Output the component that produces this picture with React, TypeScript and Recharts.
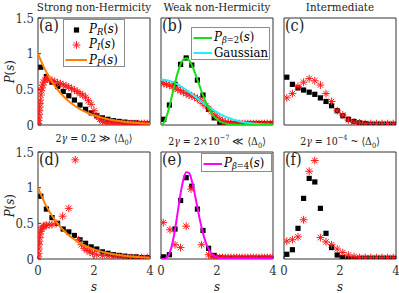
import React from 'react';
import { ComposedChart, Scatter, Line, XAxis, YAxis, Legend } from 'recharts';

// bin centres used by the histogram markers
const S_BINS = [0.1, 0.3, 0.5, 0.7, 0.9, 1.1, 1.3, 1.5, 1.7, 1.9, 2.1, 2.3, 2.5, 2.7, 2.9, 3.1, 3.3, 3.5, 3.7, 3.9];
// fine grid for the theory curves and the dense star runs
const S_FINE = [0, 0.1, 0.2, 0.3, 0.4, 0.5, 0.6, 0.7, 0.8, 0.9, 1, 1.1, 1.2, 1.3, 1.4, 1.5, 1.6, 1.7, 1.8, 1.9, 2, 2.1, 2.2, 2.3, 2.4, 2.5, 2.6, 2.7, 2.8, 2.9, 3, 3.1, 3.2, 3.3, 3.4, 3.5, 3.6, 3.7, 3.8, 3.9, 4];

const X_TICKS = [0, 2, 4];
const Y_TICKS = [0, 0.5, 1, 1.5];

// theory curves
const POISSON = [1, 0.905, 0.819, 0.741, 0.67, 0.607, 0.549, 0.497, 0.449, 0.407, 0.368, 0.333, 0.301, 0.273, 0.247, 0.223, 0.202, 0.183, 0.165, 0.15, 0.135, 0.122, 0.111, 0.1, 0.091, 0.082, 0.074, 0.067, 0.061, 0.055, 0.05, 0.045, 0.041, 0.037, 0.033, 0.03, 0.027, 0.025, 0.022, 0.02, 0.018];
const GUE = [0, 0.032, 0.123, 0.26, 0.423, 0.59, 0.738, 0.851, 0.919, 0.937, 0.908, 0.84, 0.746, 0.637, 0.524, 0.415, 0.319, 0.236, 0.17, 0.118, 0.08, 0.052, 0.033, 0.02, 0.012, 0.007, 0.004, 0.002, 0.001, 0, 0, 0, 0, 0, 0, 0, 0, 0, 0, 0, 0];
const GAUSS = [0.637, 0.635, 0.629, 0.619, 0.605, 0.588, 0.568, 0.545, 0.519, 0.492, 0.463, 0.433, 0.403, 0.372, 0.341, 0.311, 0.282, 0.254, 0.227, 0.202, 0.178, 0.156, 0.136, 0.118, 0.102, 0.087, 0.074, 0.063, 0.052, 0.044, 0.036, 0.03, 0.024, 0.02, 0.016, 0.013, 0.01, 0.008, 0.006, 0.005, 0.004];
const GSE = [0, 0.001, 0.017, 0.077, 0.207, 0.412, 0.665, 0.919, 1.116, 1.217, 1.206, 1.097, 0.924, 0.722, 0.527, 0.361, 0.231, 0.14, 0.08, 0.043, 0.022, 0.01, 0.005, 0.002, 0.001, 0, 0, 0, 0, 0, 0, 0, 0, 0, 0, 0, 0, 0, 0, 0, 0];

// (a) strong non-Hermiticity, 2γ = 0.2
const A_PR = [0.81, 0.68, 0.6, 0.54, 0.47, 0.41, 0.35, 0.28, 0.22, 0.17, 0.13, 0.1, 0.08, 0.06, 0.05, 0.04, 0.03, 0.03, 0.02, 0.02];
const A_PI_S = [0.01, 0.02, 0.03, 0.04, 0.05, 0.06, 0.07, 0.08, 0.1, 0.12, 0.14, 0.17, 0.2, 0.25, 0.3, 0.35, 0.4, 0.5, 0.6, 0.7, 0.8, 0.9, 1, 1.1, 1.2, 1.3, 1.4, 1.5, 1.6, 1.7, 1.8, 1.9, 2, 2.1, 2.2, 2.3, 2.4, 2.5, 2.6, 2.7, 2.8, 2.9, 3, 3.1, 3.2, 3.3, 3.4, 3.5, 3.6, 3.7, 3.8, 3.9, 4];
const A_PI = [0.02, 0.06, 0.1, 0.15, 0.2, 0.25, 0.3, 0.35, 0.42, 0.48, 0.52, 0.56, 0.6, 0.63, 0.65, 0.65, 0.64, 0.62, 0.61, 0.59, 0.58, 0.56, 0.55, 0.53, 0.51, 0.49, 0.47, 0.44, 0.42, 0.39, 0.34, 0.29, 0.2, 0.13, 0.08, 0.05, 0.04, 0.03, 0.03, 0.03, 0.02, 0.02, 0.02, 0.02, 0.02, 0.02, 0.02, 0.02, 0.02, 0.02, 0.02, 0.02, 0.02];

// (b) weak non-Hermiticity, 2γ = 2e-7
const B_PR = [0.08, 0.28, 0.57, 0.85, 0.94, 0.84, 0.63, 0.42, 0.22, 0.1, 0.04, 0.02, 0.02, 0.02, 0.02, 0.02, 0.02, 0.02, 0.02, 0.02];
const B_PI = [0.59, 0.58, 0.57, 0.56, 0.54, 0.52, 0.5, 0.48, 0.46, 0.44, 0.42, 0.41, 0.39, 0.37, 0.34, 0.3, 0.27, 0.23, 0.19, 0.15, 0.11, 0.08, 0.06, 0.04, 0.03, 0.03, 0.02, 0.02, 0.02, 0.02, 0.02, 0.02, 0.02, 0.02, 0.02, 0.02, 0.02, 0.02, 0.02, 0.02, 0.02];

// (c) intermediate, 2γ = 1e-4
const C_PR = [0.67, 0.57, 0.52, 0.49, 0.46, 0.43, 0.38, 0.33, 0.27, 0.2, 0.13, 0.08, 0.05, 0.03, 0.02, 0.01, 0.01, 0.01, 0.01, 0.01];
const C_PI = [0.38, 0.44, 0.54, 0.6, 0.65, 0.62, 0.56, 0.44, 0.33, 0.2, 0.14, 0.07, 0.04, 0.03, 0.02, 0.02, 0.02, 0.02, 0.02, 0.02];

// (d)
const D_PR = [0.88, 0.7, 0.58, 0.5, 0.42, 0.38, 0.33, 0.27, 0.22, 0.17, 0.14, 0.1, 0.08, 0.06, 0.05, 0.04, 0.03, 0.03, 0.02, 0.02];
const D_PI_S = [0.01, 0.02, 0.03, 0.04, 0.05, 0.06, 0.08, 0.1, 0.12, 0.15, 0.2, 0.25, 0.3, 0.4, 0.5, 0.65, 0.88, 1.1, 1.33, 1.45, 1.55, 1.65, 1.75, 1.85, 1.95, 2.1, 2.3, 2.5, 2.7, 2.9, 3.1, 3.3, 3.5, 3.7, 3.9];
const D_PI = [0.03, 0.08, 0.14, 0.2, 0.25, 0.3, 0.35, 0.39, 0.42, 0.44, 0.46, 0.47, 0.47, 0.48, 0.48, 0.5, 0.6, 0.71, 1.39, 0.27, 0.2, 0.15, 0.12, 0.1, 0.08, 0.06, 0.05, 0.04, 0.03, 0.03, 0.02, 0.02, 0.02, 0.02, 0.02];

// (e)
const E_PR = [0.03, 0.06, 0.42, 0.82, 1.14, 1.02, 0.7, 0.4, 0.15, 0.05, 0.02, 0.01, 0.01, 0.01, 0.01, 0.01, 0.01, 0.01, 0.01, 0.01];
const E_PI_S = [0.08, 0.32, 0.5, 0.7, 0.9, 1.07, 1.45, 1.7, 1.8, 1.9, 2, 2.1, 2.2, 2.3, 2.4, 2.5, 2.6, 2.7, 2.8, 2.9, 3, 3.1, 3.2, 3.3, 3.4, 3.5, 3.6, 3.7, 3.8, 3.9, 4];
const E_PI = [0.51, 0.41, 0.2, 0.16, 0.46, 0.98, 0.2, 0.06, 0.03, 0.02, 0.02, 0.02, 0.02, 0.02, 0.02, 0.02, 0.02, 0.02, 0.02, 0.02, 0.02, 0.02, 0.02, 0.02, 0.02, 0.02, 0.02, 0.02, 0.02, 0.02, 0.02];

// (f)
const F_PR = [0.066, 0.13, 0.43, 0.85, 1.13, 1.08, 0.71, 0.36, 0.16, 0.056, 0.02, 0.01, 0.01, 0.01, 0.01, 0.01, 0.01, 0.01, 0.01, 0.01];
const F_PI = [0.25, 0.27, 0.31, 0.55, 1.23, 1.38, 0.3, 0.24, 0.2, 0.14, 0.09, 0.056, 0.033, 0.02, 0.02, 0.02, 0.02, 0.02, 0.02, 0.02];

const TITLES = ['Strong non-Hermicity', 'Weak non-Hermicity', 'Intermediate'];
const TAGS = ['(a)', '(b)', '(c)', '(d)', '(e)', '(f)'];

type Pt = { s: number; p: number };
const zip = (s: number[], p: number[]): Pt[] =>
  s.map((v, i) => ({ s: v, p: p[i] })).filter((d) => d.p !== undefined);

const SERIF = "'DejaVu Serif Condensed', 'DejaVu Serif', serif";
const AXIS = '#333';
const RED = '#ff1a1a';
const ORANGE = '#ff8000';
const GREEN = '#14e014';
const CYAN = '#22eeff';
const MAGENTA = '#ff00ff';

// plot box geometry
const COL_X = [38, 161, 284];
const ROW_Y = [18, 152];
const PW = 112;
const PH = 107;
const PAD = { l: 40, r: 6, t: 6, b: 26 };

const Square = ({ cx, cy }: any) => <rect x={cx - 2.6} y={cy - 2.6} width={5.2} height={5.2} fill="#000" />;

const Star = ({ cx, cy }: any) => {
  const r = 3.9;
  const d = r * 0.7071;
  return (
    <g stroke={RED} strokeWidth={1}>
      <line x1={cx - r} y1={cy} x2={cx + r} y2={cy} />
      <line x1={cx} y1={cy - r} x2={cx} y2={cy + r} />
      <line x1={cx - d} y1={cy - d} x2={cx + d} y2={cy + d} />
      <line x1={cx - d} y1={cy + d} x2={cx + d} y2={cy - d} />
    </g>
  );
};

type LegendItem = { kind: 'square' | 'star' | 'line'; color?: string; label: React.ReactNode };
type LegendSpec = { x: number; y: number; w: number; h: number; rowTop: number; rowGap: number; keyW: number; items: LegendItem[] };

function LegendBox({ spec }: { spec: LegendSpec }) {
  return (
    <div style={{ position: 'relative', width: spec.w, height: spec.h, boxSizing: 'border-box', border: '1px solid #8c8c8c', background: '#fff', fontFamily: SERIF, fontSize: 13, color: '#000' }}>
      {spec.items.map((it, i) => (
        <div key={i} style={{ position: 'absolute', left: 0, top: spec.rowTop + i * spec.rowGap - 8, height: 16, display: 'flex', alignItems: 'center', whiteSpace: 'nowrap', lineHeight: 1 }}>
          <svg width={spec.keyW} height={16} style={{ display: 'block' }}>
            {it.kind === 'line' && <line x1={1.5} x2={spec.keyW - 2} y1={8} y2={8} stroke={it.color} strokeWidth={2} />}
            {it.kind === 'square' && <Square cx={spec.keyW / 2} cy={8} />}
            {it.kind === 'star' && <Star cx={spec.keyW / 2} cy={8} />}
          </svg>
          <span>{it.label}</span>
        </div>
      ))}
    </div>
  );
}

const sub = (t: React.ReactNode) => <sub style={{ fontSize: '0.72em', verticalAlign: '-0.25em' }}>{t}</sub>;

const LEGEND_A: LegendSpec = {
  x: 63, y: 19, w: 62, h: 48, rowTop: 9.5, rowGap: 15.3, keyW: 25,
  items: [
    { kind: 'square', label: <><i>P</i>{sub(<i>R</i>)}(<i>s</i>)</> },
    { kind: 'star', label: <><i>P</i>{sub(<i>I</i>)}(<i>s</i>)</> },
    { kind: 'line', color: ORANGE, label: <><i>P</i>{sub(<i>P</i>)}(<i>s</i>)</> },
  ],
};
const LEGEND_B: LegendSpec = {
  x: 191, y: 27, w: 79, h: 33, rowTop: 9.5, rowGap: 15, keyW: 22,
  items: [
    { kind: 'line', color: GREEN, label: <><i>P</i>{sub(<><i>β</i>=2</>)}(<i>s</i>)</> },
    { kind: 'line', color: CYAN, label: 'Gaussian' },
  ],
};
const LEGEND_E: LegendSpec = {
  x: 201, y: 153, w: 71, h: 19, rowTop: 9.5, rowGap: 15, keyW: 22,
  items: [{ kind: 'line', color: MAGENTA, label: <><i>P</i>{sub(<><i>β</i>=4</>)}(<i>s</i>)</> }],
};

type Curve = { data: Pt[]; color: string };
type PanelProps = { col: number; row: number; squares: Pt[]; stars: Pt[]; curves: Curve[]; legend?: LegendSpec };

function Panel({ col, row, squares, stars, curves, legend }: PanelProps) {
  const x0 = COL_X[col] - PAD.l;
  const y0 = ROW_Y[row] - PAD.t;
  const showY = col === 0;
  const showX = row === 1;
  const tickStyle = { fill: AXIS, fontSize: 13, fontFamily: SERIF };
  return (
    <div style={{ position: 'absolute', left: x0, top: y0 }}>
      <ComposedChart
        width={PW + PAD.l + PAD.r}
        height={PH + PAD.t + PAD.b}
        margin={{ top: PAD.t - 1, right: PAD.r - 1, bottom: PAD.b - 1, left: PAD.l - 1 }}
      >
        <XAxis type="number" dataKey="s" domain={[0, 4]} ticks={X_TICKS} interval={0} height={1} allowDataOverflow
          stroke={AXIS} tickSize={-3} tickMargin={10} tick={showX ? tickStyle : false} />
        <XAxis xAxisId="top" orientation="top" type="number" dataKey="s" domain={[0, 4]} ticks={X_TICKS} interval={0} height={1}
          allowDataOverflow stroke={AXIS} tickSize={-3} tick={false} />
        <YAxis type="number" domain={[0, 1.5]} ticks={Y_TICKS} interval={0} width={1} allowDataOverflow
          stroke={AXIS} tickSize={-3} tickMargin={7} tick={showY ? tickStyle : false} />
        <YAxis yAxisId="right" orientation="right" type="number" domain={[0, 1.5]} ticks={Y_TICKS} interval={0} width={1}
          allowDataOverflow stroke={AXIS} tickSize={-3} tick={false} />
        <Scatter data={squares} dataKey="p" shape={Square} isAnimationActive={false} zIndex={600} />
        <Scatter data={stars} dataKey="p" shape={Star} isAnimationActive={false} zIndex={610} />
        {curves.map((c, i) => (
          <Line key={i} data={c.data} dataKey="p" type="monotone" stroke={c.color} strokeWidth={2}
            dot={false} activeDot={false} isAnimationActive={false} zIndex={650 + i} />
        ))}
        {legend && (
          <Legend layout="vertical" align="center" verticalAlign="middle"
            wrapperStyle={{ left: legend.x - x0, top: legend.y - y0, width: legend.w, height: legend.h }}
            content={() => <LegendBox spec={legend} />} />
        )}
      </ComposedChart>
    </div>
  );
}

// fixed box centred on (x, y); rotation is about the box centre
const Centered = ({ x, y, size, rotate, children }: { x: number; y: number; size: number; rotate?: boolean; children: React.ReactNode }) => (
  <div style={{ position: 'absolute', left: x - 80, top: y - size * 0.6, width: 160, height: size * 1.2, lineHeight: `${size * 1.2}px`,
    textAlign: 'center', transform: rotate ? 'rotate(-90deg)' : undefined, fontSize: size, whiteSpace: 'nowrap', color: '#222' }}>
    {children}
  </div>
);

const NOTES = [
  <>2<i>γ</i> = 0.2 ≫ ⟨Δ<sub style={{ fontSize: '0.7em' }}>0</sub>⟩</>,
  <>2<i>γ</i> = 2×10<sup style={{ fontSize: '0.7em' }}>−7</sup> ≪ ⟨Δ<sub style={{ fontSize: '0.7em' }}>0</sub>⟩</>,
  <>2<i>γ</i> = 10<sup style={{ fontSize: '0.7em' }}>−4</sup> ~ ⟨Δ<sub style={{ fontSize: '0.7em' }}>0</sub>⟩</>,
];

export default function App() {
  const poisson = zip(S_FINE, POISSON);
  const centres = COL_X.map((x) => x + PW / 2);
  return (
    <div style={{ position: 'absolute', left: 0, top: 0, width: 399, height: 293, background: '#fff', overflow: 'hidden', fontFamily: SERIF }}>
      <Panel col={0} row={0} squares={zip(S_BINS, A_PR)} stars={zip(A_PI_S, A_PI)} curves={[{ data: poisson, color: ORANGE }]} legend={LEGEND_A} />
      <Panel col={1} row={0} squares={zip(S_BINS, B_PR)} stars={zip(S_FINE, B_PI)}
        curves={[{ data: zip(S_FINE, GAUSS), color: CYAN }, { data: zip(S_FINE, GUE), color: GREEN }]} legend={LEGEND_B} />
      <Panel col={2} row={0} squares={zip(S_BINS, C_PR)} stars={zip(S_BINS, C_PI)} curves={[]} />
      <Panel col={0} row={1} squares={zip(S_BINS, D_PR)} stars={zip(D_PI_S, D_PI)} curves={[{ data: poisson, color: ORANGE }]} />
      <Panel col={1} row={1} squares={zip(S_BINS, E_PR)} stars={zip(E_PI_S, E_PI)} curves={[{ data: zip(S_FINE, GSE), color: MAGENTA }]} legend={LEGEND_E} />
      <Panel col={2} row={1} squares={zip(S_BINS, F_PR)} stars={zip(S_BINS, F_PI)} curves={[]} />

      {TITLES.map((t, i) => (
        <Centered key={t} x={centres[i]} y={7.5} size={11.5}>{t}</Centered>
      ))}
      {NOTES.map((n, i) => (
        <Centered key={i} x={centres[i]} y={138} size={10.5}>{n}</Centered>
      ))}
      {TAGS.map((t, i) => (
        <div key={t} style={{ position: 'absolute', left: COL_X[i % 3] + 1, top: ROW_Y[Math.floor(i / 3)], fontSize: 16, lineHeight: 1, color: '#222' }}>{t}</div>
      ))}
      {ROW_Y.map((y) => (
        <Centered key={y} x={10} y={y + PH / 2} size={13} rotate><i>P</i>(<i>s</i>)</Centered>
      ))}
      {centres.map((x) => (
        <Centered key={x} x={x} y={287} size={13}><i>s</i></Centered>
      ))}
    </div>
  );
}
